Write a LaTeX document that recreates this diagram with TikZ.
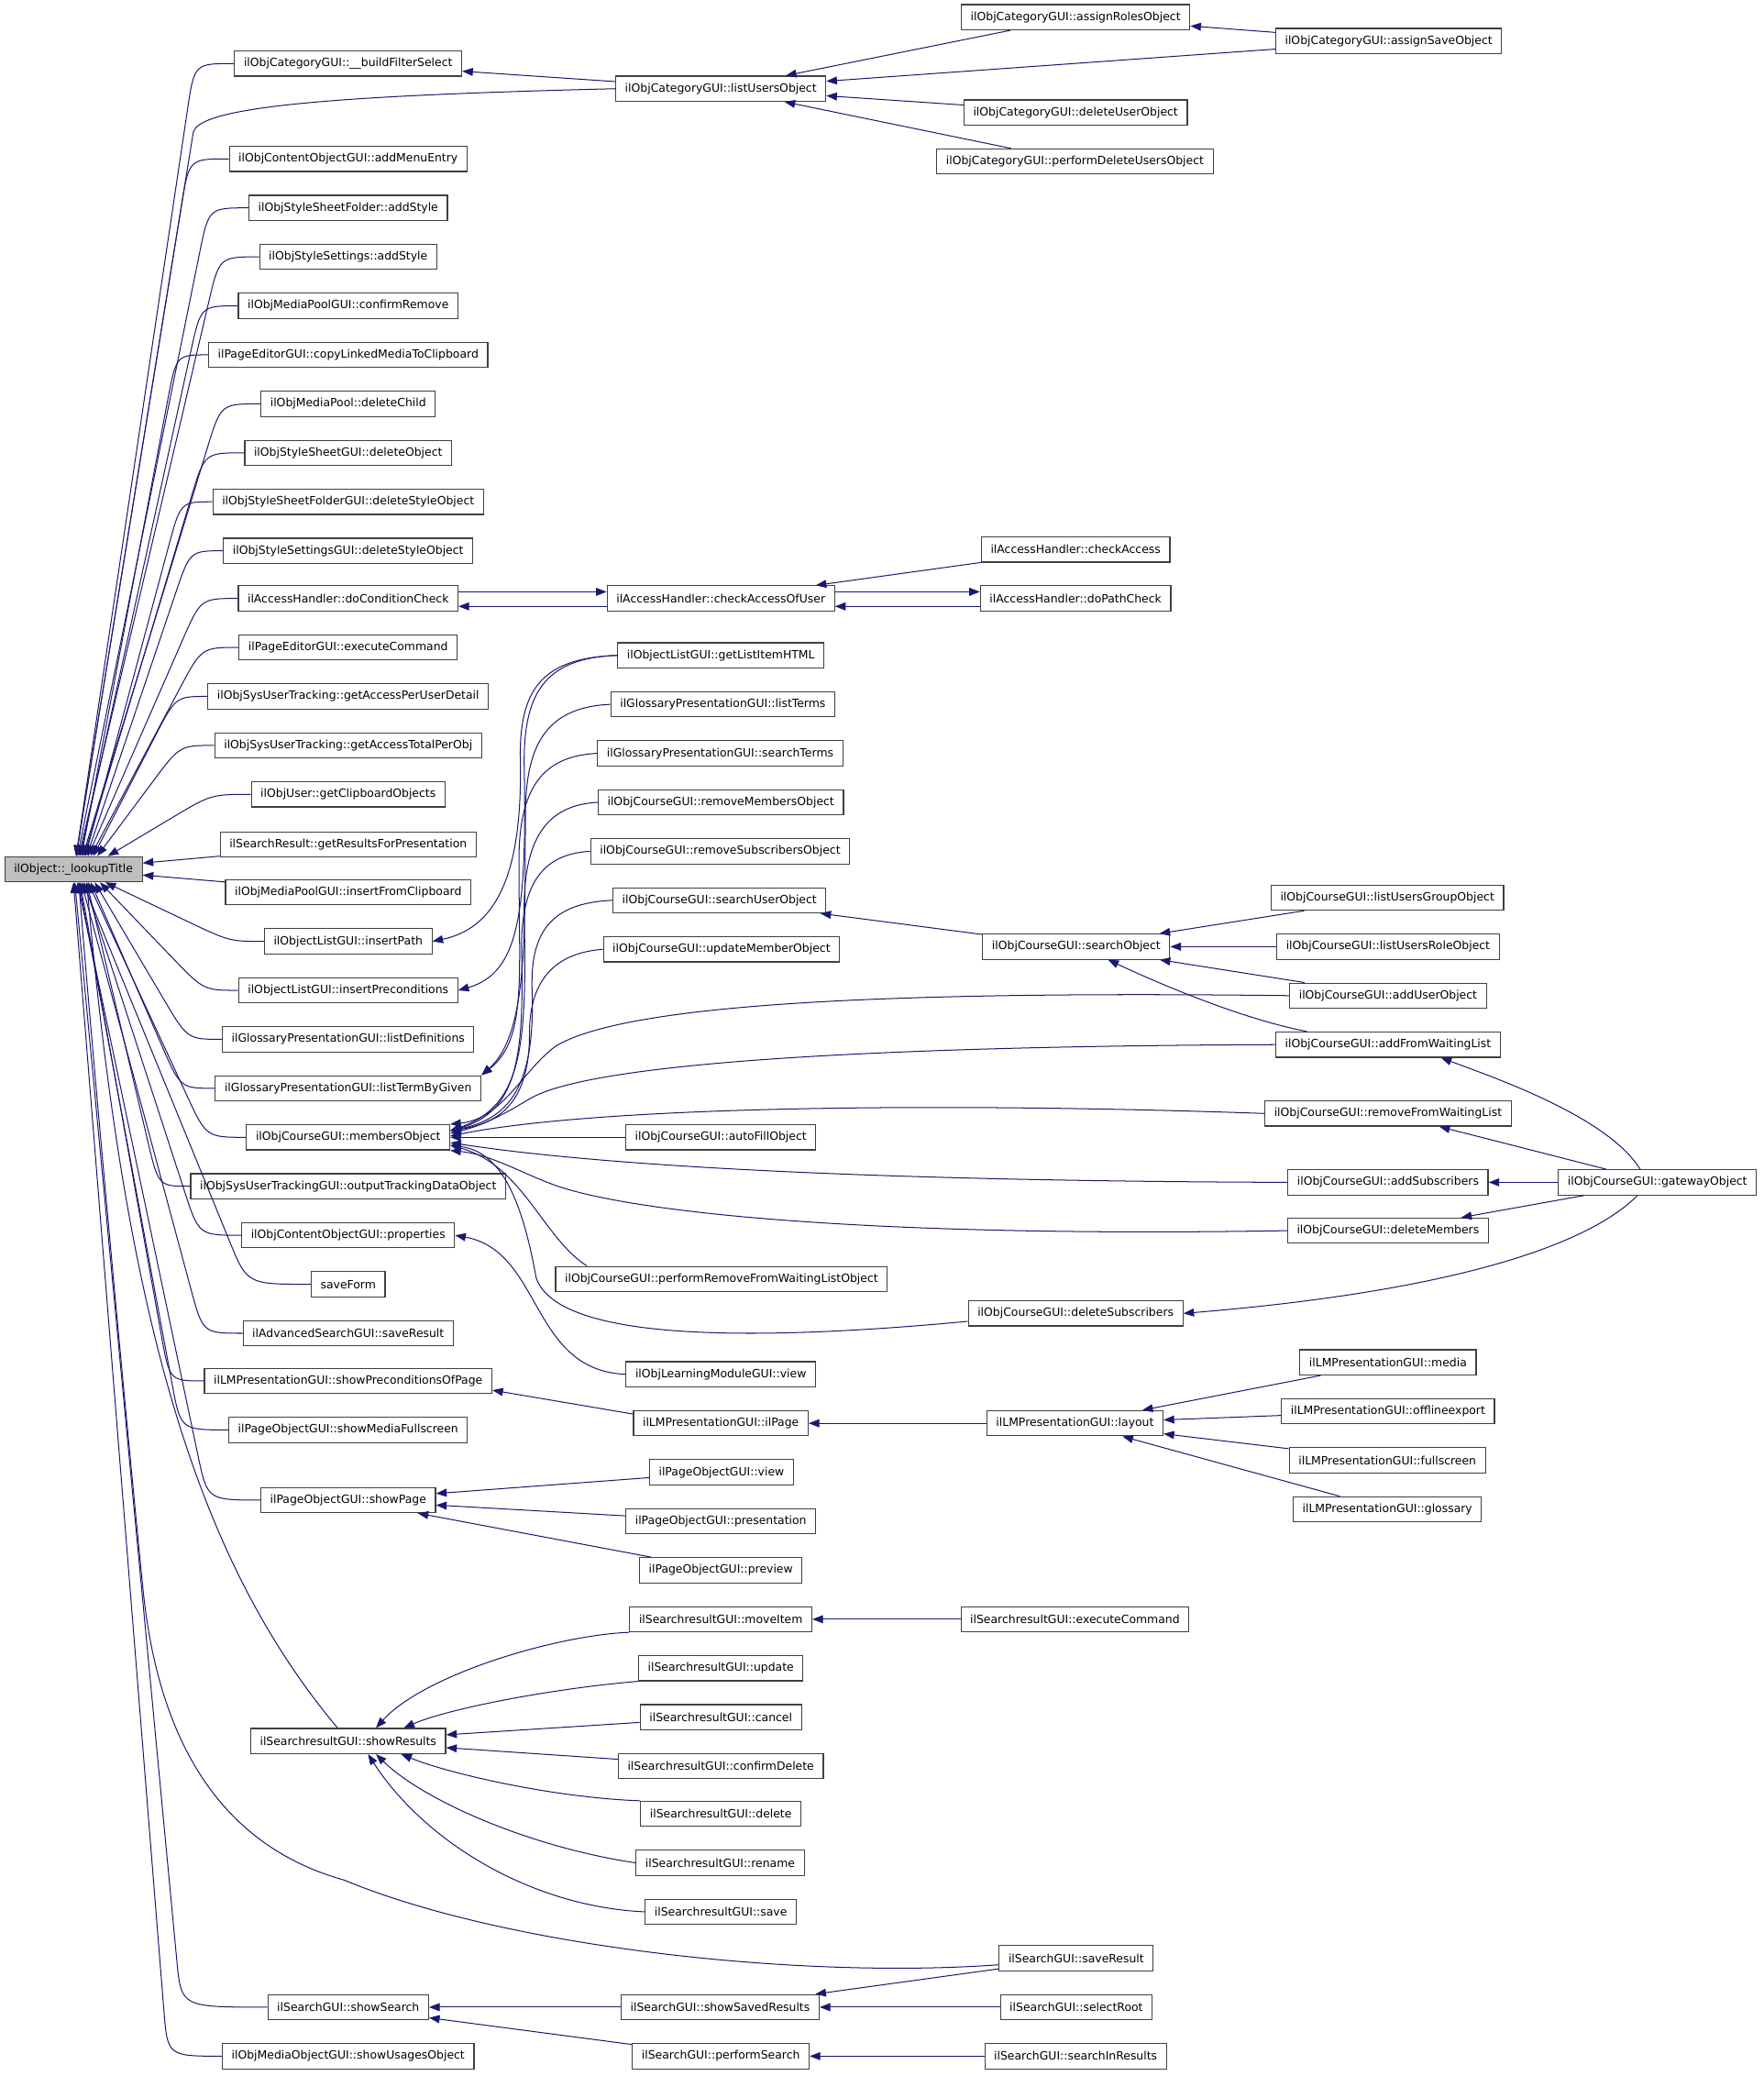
\documentclass[tikz,border=0pt]{standalone}
\usepackage{fontspec}
\setmainfont{DejaVu Sans}
\usetikzlibrary{arrows.meta,calc}
\definecolor{edgeblue}{HTML}{191970}
\definecolor{boxedge}{HTML}{404040}
\definecolor{rootfill}{HTML}{BFBFBF}

\begin{document}
\begin{tikzpicture}[
  x=1pt, y=-1pt,
  font=\fontsize{8.6}{10}\selectfont,
  fn/.style={draw=boxedge, fill=white, line width=.8pt, inner xsep=7pt,
             inner ysep=0pt, minimum height=19pt},
  rootfn/.style={fn, fill=rootfill},
  call/.style={color=edgeblue, line width=.7pt,
               -{Triangle[length=8pt,width=6pt]}}
]
\useasboundingbox (0,0) rectangle (1332,1568);

% Function whose callers are shown.
\node[rootfn] (root) at (55.5,656.5) {ilObject::\_lookupTitle};

% Direct callers.
\node[fn] (bfs) at (263,48) {ilObjCategoryGUI::\_\_buildFilterSelect};
\node[fn] (ame) at (263,120) {ilObjContentObjectGUI::addMenuEntry};
\node[fn] (ssfAdd) at (263,157) {ilObjStyleSheetFolder::addStyle};
\node[fn] (ssAdd) at (263,194) {ilObjStyleSettings::addStyle};
\node[fn] (mpConfirm) at (263,231) {ilObjMediaPoolGUI::confirmRemove};
\node[fn] (peCopy) at (263,268) {ilPageEditorGUI::copyLinkedMediaToClipboard};
\node[fn] (mpDelete) at (263,305) {ilObjMediaPool::deleteChild};
\node[fn] (ssgDelete) at (263,342) {ilObjStyleSheetGUI::deleteObject};
\node[fn] (ssfgDelete) at (263,379) {ilObjStyleSheetFolderGUI::deleteStyleObject};
\node[fn] (ssgsDelete) at (263,416) {ilObjStyleSettingsGUI::deleteStyleObject};
\node[fn] (doCond) at (263,452) {ilAccessHandler::doConditionCheck};
\node[fn] (peExec) at (263,489) {ilPageEditorGUI::executeCommand};
\node[fn] (sutPerUser) at (263,526) {ilObjSysUserTracking::getAccessPerUserDetail};
\node[fn] (sutTotal) at (263,563) {ilObjSysUserTracking::getAccessTotalPerObj};
\node[fn] (userClip) at (263,600) {ilObjUser::getClipboardObjects};
\node[fn] (srResults) at (263,638) {ilSearchResult::getResultsForPresentation};
\node[fn] (mpInsert) at (263,674) {ilObjMediaPoolGUI::insertFromClipboard};
\node[fn] (olPath) at (263,711) {ilObjectListGUI::insertPath};
\node[fn] (olPrecond) at (263,748) {ilObjectListGUI::insertPreconditions};
\node[fn] (glDefs) at (263,785) {ilGlossaryPresentationGUI::listDefinitions};
\node[fn] (glByGiven) at (263,822) {ilGlossaryPresentationGUI::listTermByGiven};
\node[fn] (crsMembers) at (263,859) {ilObjCourseGUI::membersObject};
\node[fn] (sutgOutput) at (263,896) {ilObjSysUserTrackingGUI::outputTrackingDataObject};
\node[fn] (coProps) at (263,933) {ilObjContentObjectGUI::properties};
\node[fn] (saveForm) at (263,970) {saveForm};
\node[fn] (asSave) at (263,1007) {ilAdvancedSearchGUI::saveResult};
\node[fn] (lmPrecond) at (263,1043) {ilLMPresentationGUI::showPreconditionsOfPage};
\node[fn] (poMedia) at (263,1080) {ilPageObjectGUI::showMediaFullscreen};
\node[fn] (poShowPage) at (263,1133) {ilPageObjectGUI::showPage};
\node[fn] (srShow) at (263,1315) {ilSearchresultGUI::showResults};
\node[fn] (sShowSearch) at (263,1516) {ilSearchGUI::showSearch};
\node[fn] (moUsages) at (263,1553) {ilObjMediaObjectGUI::showUsagesObject};

% Second level.
\node[fn] (lu) at (544.5,67) {ilObjCategoryGUI::listUsersObject};
\node[fn] (caou) at (544.5,452) {ilAccessHandler::checkAccessOfUser};
\node[fn] (olGetHTML) at (544.5,495) {ilObjectListGUI::getListItemHTML};
\node[fn] (glTerms) at (546,532) {ilGlossaryPresentationGUI::listTerms};
\node[fn] (glSearch) at (544,569) {ilGlossaryPresentationGUI::searchTerms};
\node[fn] (crsRemMem) at (544.5,606) {ilObjCourseGUI::removeMembersObject};
\node[fn] (crsRemSub) at (544,643) {ilObjCourseGUI::removeSubscribersObject};
\node[fn] (crsSearchUser) at (543.5,680) {ilObjCourseGUI::searchUserObject};
\node[fn] (crsUpdate) at (545,717) {ilObjCourseGUI::updateMemberObject};
\node[fn] (crsAutoFill) at (544.5,859) {ilObjCourseGUI::autoFillObject};
\node[fn] (crsPerfRemove) at (545,966) {ilObjCourseGUI::performRemoveFromWaitingListObject};
\node[fn] (lmView) at (544.5,1038) {ilObjLearningModuleGUI::view};
\node[fn] (lmIlPage) at (544.5,1075) {ilLMPresentationGUI::ilPage};
\node[fn] (poView) at (545,1112) {ilPageObjectGUI::view};
\node[fn] (poPresent) at (544.5,1149) {ilPageObjectGUI::presentation};
\node[fn] (poPreview) at (544.5,1186) {ilPageObjectGUI::preview};
\node[fn] (srMove) at (544.5,1223) {ilSearchresultGUI::moveItem};
\node[fn] (srUpdate) at (544.5,1260) {ilSearchresultGUI::update};
\node[fn] (srCancel) at (544.5,1297) {ilSearchresultGUI::cancel};
\node[fn] (srConfirm) at (544.5,1334) {ilSearchresultGUI::confirmDelete};
\node[fn] (srDelete) at (544.5,1370) {ilSearchresultGUI::delete};
\node[fn] (srRename) at (544,1407) {ilSearchresultGUI::rename};
\node[fn] (srSave) at (544.5,1444) {ilSearchresultGUI::save};
\node[fn] (sShowSaved) at (544,1516) {ilSearchGUI::showSavedResults};
\node[fn] (sPerform) at (544.5,1553) {ilSearchGUI::performSearch};

% Third level.
\node[fn] (catRoles) at (812.5,13) {ilObjCategoryGUI::assignRolesObject};
\node[fn] (catDelUser) at (812.5,85) {ilObjCategoryGUI::deleteUserObject};
\node[fn] (catPerfDel) at (812,122) {ilObjCategoryGUI::performDeleteUsersObject};
\node[fn] (ahCheck) at (812.5,415) {ilAccessHandler::checkAccess};
\node[fn] (ahPath) at (812.5,452) {ilAccessHandler::doPathCheck};
\node[fn] (crsSearch) at (813,715) {ilObjCourseGUI::searchObject};
\node[fn] (crsDelSub) at (812.5,992) {ilObjCourseGUI::deleteSubscribers};
\node[fn] (lmLayout) at (812,1075) {ilLMPresentationGUI::layout};
\node[fn] (srExec) at (812,1223) {ilSearchresultGUI::executeCommand};
\node[fn] (sSaveResult) at (813,1479) {ilSearchGUI::saveResult};
\node[fn] (sSelectRoot) at (813,1516) {ilSearchGUI::selectRoot};
\node[fn] (sInResults) at (812.5,1553) {ilSearchGUI::searchInResults};

% Fourth and fifth level.
\node[fn] (catSave) at (1049,31) {ilObjCategoryGUI::assignSaveObject};
\node[fn] (crsGroup) at (1048,678) {ilObjCourseGUI::listUsersGroupObject};
\node[fn] (crsRole) at (1048.5,715) {ilObjCourseGUI::listUsersRoleObject};
\node[fn] (crsAddUser) at (1048.5,752) {ilObjCourseGUI::addUserObject};
\node[fn] (crsAddWait) at (1048.5,789) {ilObjCourseGUI::addFromWaitingList};
\node[fn] (crsRemWait) at (1048.5,841) {ilObjCourseGUI::removeFromWaitingList};
\node[fn] (crsAddSub) at (1048.5,893) {ilObjCourseGUI::addSubscribers};
\node[fn] (crsDelMem) at (1048.5,929.5) {ilObjCourseGUI::deleteMembers};
\node[fn] (lmMedia) at (1048.5,1029) {ilLMPresentationGUI::media};
\node[fn] (lmOffline) at (1048.5,1066) {ilLMPresentationGUI::offlineexport};
\node[fn] (lmFull) at (1048,1103) {ilLMPresentationGUI::fullscreen};
\node[fn] (lmGloss) at (1048,1140) {ilLMPresentationGUI::glossary};
\node[fn] (crsGateway) at (1252,893) {ilObjCourseGUI::gatewayObject};

% Callers above the root: bend, then run into its top.
\foreach \n/\ko/\dx in {bfs/30/2, ame/30/2, ssfAdd/30/3, ssAdd/30/4,
    mpConfirm/28/5, peCopy/24/6, mpDelete/30/7, ssgDelete/30/8,
    ssfgDelete/24/9, ssgsDelete/25/10, doCond/28/11, peExec/28/13,
    sutPerUser/24/15, sutTotal/26/18, userClip/30/26}{
  \path (\n.west) ++(-\ko,0) coordinate (bend);
  \path ([xshift=\dx]root.north) coordinate (tip);
  \draw[call] (\n.west) .. controls (bend) .. ($(bend)!35pt!(tip)$) -- (tip);
}
% Callers below the root.
\foreach \n/\ko/\dx in {olPath/26/24, olPrecond/26/20, glDefs/26/16,
    glByGiven/26/13, crsMembers/30/11, sutgOutput/24/10, coProps/32/8,
    saveForm/48/7, asSave/30/6, lmPrecond/26/5, poMedia/36/4,
    poShowPage/40/3, sShowSearch/65/1, moUsages/41/0}{
  \path (\n.west) ++(-\ko,0) coordinate (bend);
  \path ([xshift=\dx]root.south) coordinate (tip);
  \draw[call] (\n.west) .. controls (bend) .. ($(bend)!35pt!(tip)$) -- (tip);
}
\draw[call] (srResults) -- (root);
\draw[call] (mpInsert) -- (root);
\draw[call] (lu.west) .. controls (260,72) and (150,80) .. (146,100)
  -- ([xshift=2]root.north);
\draw[call] ([xshift=-8]srShow.north) .. controls (150,1180) and (95,1000)
  .. ([xshift=10]root.south);
\draw[call] ([yshift=-5]sSaveResult.west) .. controls (600,1495) and (380,1470)
  .. (260,1420) .. controls (170,1395) and (120,1320) .. (108,1200)
  .. controls (96,1080) and (70,800) .. ([xshift=4]root.south);

% Category users.
\draw[call] (lu) -- (bfs);
\draw[call] (catRoles) -- (lu);
\draw[call] (catSave) -- (lu);
\draw[call] (catDelUser) -- (lu);
\draw[call] (catPerfDel) -- (lu);
\draw[call] (catSave) -- (catRoles);

% Access handler loop.
\draw[call] ([yshift=5]doCond.east) -- ([yshift=5]caou.west);
\draw[call] ([yshift=-6]caou.west) -- ([yshift=-6]doCond.east);
\draw[call] ([yshift=5]caou.east) -- ([yshift=5]ahPath.west);
\draw[call] ([yshift=-6]ahPath.west) -- ([yshift=-6]caou.east);
\draw[call] (ahCheck) -- (caou);

% Bundle of calls coming down at x=395.
\draw[call] (olGetHTML.west) .. controls (410,497) and (393,520) .. (393,570)
  .. controls (395,650) and (380,700) .. (olPath.east);
\draw[call] (olGetHTML.west) .. controls (410,497) and (395,525) .. (396,580)
  .. controls (398,690) and (392,735) .. (olPrecond.east);
\draw[call] (glTerms.west) .. controls (415,534) and (398,560) .. (397,610)
  .. controls (396,700) and (400,780) .. (glByGiven.north east);
\draw[call] (glSearch.west) .. controls (410,571) and (392,595) .. (392,650)
  .. controls (392,740) and (398,785) .. (glByGiven.north east);
\draw[call] (crsRemMem.west) .. controls (412,608) and (395,635) .. (396,690)
  .. controls (398,790) and (395,835) .. ([yshift=5]crsMembers.east);
\draw[call] (crsRemSub.west) .. controls (408,645) and (393,670) .. (394,720)
  .. controls (396,800) and (390,840) .. ([yshift=5]crsMembers.east);
\draw[call] (crsSearchUser.west) .. controls (415,682) and (400,705) .. (402,750)
  .. controls (404,820) and (385,845) .. ([yshift=5]crsMembers.east);
\draw[call] (crsUpdate.west) .. controls (415,720) and (400,745) .. (400,780)
  .. controls (400,830) and (380,848) .. ([yshift=5]crsMembers.east);

% Course members.
\draw[call] (crsAddUser.west) .. controls (650,748) and (470,760) .. (420,790)
  .. controls (395,808) and (380,845) .. (crsMembers.north east);
\draw[call] (crsAddWait.west) .. controls (700,790) and (450,800) .. (400,830)
  .. controls (380,842) and (365,850) .. ([yshift=3]crsMembers.east);
\draw[call] (crsRemWait.west) .. controls (700,832) and (450,836)
  .. ([yshift=1]crsMembers.east);
\draw[call] (crsAutoFill) -- (crsMembers);
\draw[call] (crsAddSub.west) .. controls (650,892) and (450,880)
  .. ([yshift=-4]crsMembers.east);
\draw[call] (crsDelMem.west) .. controls (650,935) and (470,915) .. (416,894)
  .. controls (390,884) and (370,872) .. (crsMembers.south east);
\draw[call] ($(crsPerfRemove.north west)+(24,0)$) .. controls (410,935)
  and (395,880) .. ([yshift=-6]crsMembers.east);
\draw[call] ([yshift=-6]crsDelSub.west) .. controls (550,1015) and (420,1010)
  .. (405,965) .. controls (395,910) and (380,870) .. ([yshift=-6]crsMembers.east);

% Course search and gateway.
\draw[call] (crsSearch) -- (crsSearchUser);
\draw[call] (crsGroup) -- (crsSearch);
\draw[call] (crsRole) -- (crsSearch);
\draw[call] (crsAddUser) -- (crsSearch);
\draw[call] ($(crsAddWait.north west)+(24,0)$) .. controls (940,770) and (880,745)
  .. ([xshift=24]crsSearch.south);
\draw[call] ([xshift=-13]crsGateway.north) .. controls +(-25,-40) and +(40,15)
  .. ([xshift=40]crsAddWait.south);
\draw[call] (crsGateway) -- (crsRemWait);
\draw[call] (crsGateway) -- (crsAddSub);
\draw[call] (crsGateway) -- (crsDelMem);
\draw[call] ([xshift=-15]crsGateway.south) .. controls (1200,940) and (1100,975)
  .. (crsDelSub.east);

% Learning module.
\draw[call] (lmView.west) .. controls (400,1035) and (410,945) .. (coProps.east);
\draw[call] ([yshift=7]lmIlPage.west) -- ([yshift=-7]lmPrecond.east);
\draw[call] (lmLayout) -- (lmIlPage);
\foreach \n in {lmMedia, lmOffline, lmFull, lmGloss}
  \draw[call] (\n) -- (lmLayout);

% Page object.
\foreach \n in {poView, poPresent, poPreview}
  \draw[call] (\n) -- (poShowPage);

% Search result.
\draw[call] (srMove.south west) .. controls (420,1235) and (320,1265)
  .. ([xshift=21]srShow.north);
\draw[call] (srUpdate.south west) .. controls (420,1275) and (340,1290)
  .. ([xshift=42]srShow.north);
\draw[call] (srCancel) -- (srShow);
\draw[call] (srConfirm) -- (srShow);
\draw[call] (srDelete.north west) .. controls (420,1358) and (340,1340)
  .. ([xshift=40]srShow.south);
\draw[call] (srRename.west) .. controls (400,1395) and (320,1360)
  .. ([xshift=21]srShow.south);
\draw[call] (srSave.west) .. controls (400,1440) and (320,1390)
  .. ([xshift=15]srShow.south);
\draw[call] (srExec) -- (srMove);

% Search.
\draw[call] (sShowSaved) -- (sShowSearch);
\draw[call] (sPerform) -- (sShowSearch);
\draw[call] (sSaveResult) -- (sShowSaved);
\draw[call] (sSelectRoot) -- (sShowSaved);
\draw[call] (sInResults) -- (sPerform);

\end{tikzpicture}
\end{document}
